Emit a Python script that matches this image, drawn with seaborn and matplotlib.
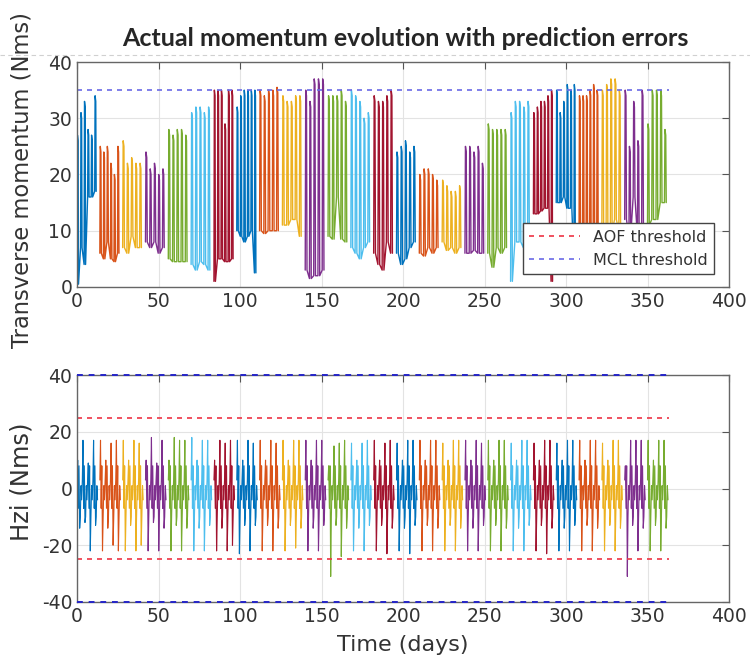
import numpy as np
import pandas as pd
import matplotlib.pyplot as plt
import seaborn as sns
from matplotlib.lines import Line2D

# MATLAB default colour order, one colour per 14-day prediction window
matlab_colors = ['#0072BD', '#D95319', '#EDB120', '#7E2F8E', '#77AC30', '#4DBEEE', '#A2142F']
segment_start = list(range(0, 364, 14))   # 26 windows
segment_length = 13

# transverse momentum (Nms): spike tops / bottoms in each window
top_peaks = [
    [27, 31, 33, 28, 27, 34], [25, 24, 25, 22, 20, 25], [26, 22, 23, 22, 22],
    [24, 21, 22, 20, 21], [28, 27, 28, 28, 27], [31, 32, 32, 31, 32],
    [35, 35, 35, 29, 35, 35], [32, 34, 35, 35, 35, 35], [35, 34, 35, 35, 35.5],
    [34, 33, 33, 34, 34], [35, 33, 37, 37, 37], [34, 34, 34, 35, 33],
    [35, 34, 33, 30, 31], [34, 33, 33, 34, 35], [24, 25, 26, 24, 25],
    [20, 21, 21, 20, 19], [19, 18, 17, 17, 18], [25, 25, 24, 25, 22],
    [29, 28, 28, 28, 28], [31, 33, 33, 32, 33], [31, 32, 33, 33, 34, 35],
    [35, 31, 33, 36, 35, 36], [34, 34, 34, 35, 36, 35], [35, 36, 37, 37, 35],
    [35, 25, 33, 26, 35], [29, 35, 35, 35, 28],
]
top_troughs = [
    [0.5, 7, 4, 16, 16, 17], [6, 5, 8, 5, 4.5, 6], [7, 6, 9, 7, 7],
    [8, 7, 8, 6, 7], [5, 4.5, 4.5, 4.5, 4.5], [4, 3, 4.5, 4, 3],
    [1, 5, 5, 4.5, 4.5, 5], [10, 9, 8, 9, 10, 2.5], [10, 9.5, 10, 10, 10],
    [11, 11, 12, 12, 9], [3, 1.5, 2, 2, 3], [9, 8.5, 16, 8.5, 8],
    [7, 6, 5, 7, 8], [6, 4, 3, 8, 6], [6, 4, 5, 7, 8],
    [6, 5.5, 7, 6, 7], [8, 6.5, 7, 6, 7], [6, 6, 6.5, 6, 6],
    [6, 3.5, 7, 6, 7], [1, 8, 8, 7, 8], [13, 13, 13.5, 14, 14, 1],
    [15, 15, 16, 14, 14, 4], [9, 9, 10, 9, 10, 9], [11, 10, 10, 12, 10],
    [12, 9, 16, 9, 11], [11, 12, 12, 15, 15],
]

# Hzi (Nms): spike tops / bottoms in each window plus the in-between ripple
bottom_peaks = [
    [10, 17, 9, 17], [17, 10, 16, 17], [17, 10, 17, 16], [10, 18, 9, 17],
    [10, 18, 17, 17], [18, 10, 17, 17], [10, 17, 16, 17], [17, 10, 17, 16],
    [17, 10, 17, 16], [17, 10, 17, 17], [17, 10, 17, 17], [8, 15, 16, 17],
    [16, 10, 16, 17], [17, 10, 16, 17], [16, 10, 17, 17], [17, 10, 17, 17],
    [16, 10, 17, 17], [17, 10, 17, 16], [17, 10, 17, 17], [16, 10, 17, 17],
    [16, 10, 17, 17], [16, 10, 17, 17], [17, 10, 17, 17], [16, 10, 17, 17],
    [8, 17, 17, 17], [17, 10, 17, 17],
]
bottom_troughs = [
    [-14, -12, -22, -13], [-22, -14, -20, -22], [-22, -13, -22, -20], [-22, -12, -22, -14],
    [-22, -13, -22, -14], [-22, -14, -22, -13], [-22, -14, -22, -20], [-23, -13, -22, -13],
    [-22, -13, -22, -14], [-22, -13, -21, -14], [-22, -14, -22, -13], [-31, -13, -24, -14],
    [-22, -14, -22, -13], [-22, -13, -23, -14], [-22, -14, -23, -13], [-22, -13, -22, -14],
    [-22, -13, -22, -14], [-22, -14, -22, -13], [-22, -13, -22, -14], [-22, -14, -22, -13],
    [-22, -13, -23, -14], [-22, -14, -22, -13], [-22, -13, -22, -14], [-22, -13, -22, -14],
    [-31, -13, -22, -14], [-22, -13, -22, -14],
]
bottom_ripple = [3, -7, 8, -10, 1, -4]

mcl_top = 35
aof_limit = 25
mcl_limit = 40
threshold_end = 363

# long tables for seaborn
rows = []
for i, (s, pk, tr) in enumerate(zip(segment_start, top_peaks, top_troughs)):
    period = segment_length / len(pk)
    for k, (hi, lo) in enumerate(zip(pk, tr)):
        t0 = s + k * period
        rows += [(i, t0, lo), (i, t0 + 0.12 * period, hi),
                 (i, t0 + 0.3 * period, hi - 1), (i, t0 + 0.42 * period, lo)]
df_top = pd.DataFrame(rows, columns=['segment', 'day', 'value'])

rows = []
for i, (s, pk, tr) in enumerate(zip(segment_start, bottom_peaks, bottom_troughs)):
    period = segment_length / len(pk)
    for k, (hi, lo) in enumerate(zip(pk, tr)):
        r = bottom_ripple
        vals = [r[0], hi, r[1], r[2], lo, r[3], r[4], r[5]]
        for j, v in enumerate(vals):
            rows.append((i, s + k * period + j * period / len(vals), v))
df_bot = pd.DataFrame(rows, columns=['segment', 'day', 'value'])

palette = [matlab_colors[i % 7] for i in range(len(segment_start))]

sns.set_style('white')
plt.rcParams['font.family'] = ['DejaVu Sans']
plt.rcParams['axes.unicode_minus'] = False

fig = plt.figure(figsize=(7.5, 6.64), dpi=100)
ax1 = fig.add_axes([0.1027, 0.5678, 0.8693, 0.3388])
ax2 = fig.add_axes([0.1027, 0.0934, 0.8693, 0.3418])

sns.lineplot(data=df_top, x='day', y='value', hue='segment', palette=palette,
             estimator=None, sort=False, legend=False, lw=1.0, ax=ax1)
sns.lineplot(data=df_bot, x='day', y='value', hue='segment', palette=palette,
             estimator=None, sort=False, legend=False, lw=0.8, ax=ax2)

red = '#ee3344'
blue_light = '#6a6ae6'
blue_dark = '#2525c8'
ax1.hlines(mcl_top, 0, threshold_end, colors=blue_light, linestyles=(0, (3, 3)), lw=1.2)
ax2.hlines([aof_limit, -aof_limit], 0, threshold_end, colors=red, linestyles=(0, (3, 3)), lw=1.2)
ax2.hlines([mcl_limit, -mcl_limit], 0, threshold_end, colors=blue_dark,
           linestyles=(0, (3, 3)), lw=1.4, clip_on=False, zorder=5)

for ax in (ax1, ax2):
    ax.set_xlim(0, 400)
    ax.set_xticks(range(0, 401, 50))
    ax.grid(True, color='#e3e3e3', lw=0.8)
    ax.tick_params(direction='in', top=True, right=True, length=5,
                   labelsize=13.5, labelcolor='#333333', color='#555555')
    for sp in ax.spines.values():
        sp.set_color('#666666')
        sp.set_linewidth(1.0)
    ax.set_xlabel('')

ax1.set_ylim(0, 40)
ax1.set_yticks(range(0, 41, 10))
ax2.set_ylim(-40, 40)
ax2.set_yticks(range(-40, 41, 20))

ax1.set_ylabel('Transverse momentum (Nms)', fontsize=16.3, color='#333333', ha='left')
ax1.yaxis.set_label_coords(-0.0675, -0.27)
ax2.set_ylabel('Hzi (Nms)', fontsize=17.5, color='#333333')
ax2.yaxis.set_label_coords(-0.0675, 0.53)
ax2.set_xlabel('Time (days)', fontsize=16, color='#333333')
ax2.xaxis.set_label_coords(0.5, -0.145)

handles = [Line2D([], [], color=red, ls=(0, (3, 3)), lw=1.2),
           Line2D([], [], color=blue_light, ls=(0, (3, 3)), lw=1.2)]
leg = ax1.legend(handles, ['AOF threshold', 'MCL threshold'], loc='lower right',
                 bbox_to_anchor=(0.977, 0.058), borderaxespad=0, fontsize=11.5,
                 handlelength=3.2, fancybox=False, framealpha=1, edgecolor='#444444')
for t in leg.get_texts():
    t.set_color('#333333')

fig.text(0.541, 1 - 38 / 664, 'Actual momentum evolution with prediction errors',
         ha='center', va='center', fontsize=18, fontweight='bold', family=['Lato', 'DejaVu Sans'])
fig.add_artist(Line2D([0, 1], [1 - 55 / 664] * 2, transform=fig.transFigure,
                      color='#d0d0d0', ls=(0, (4, 3)), lw=0.8))

fig.savefig('out.png', dpi=100)
